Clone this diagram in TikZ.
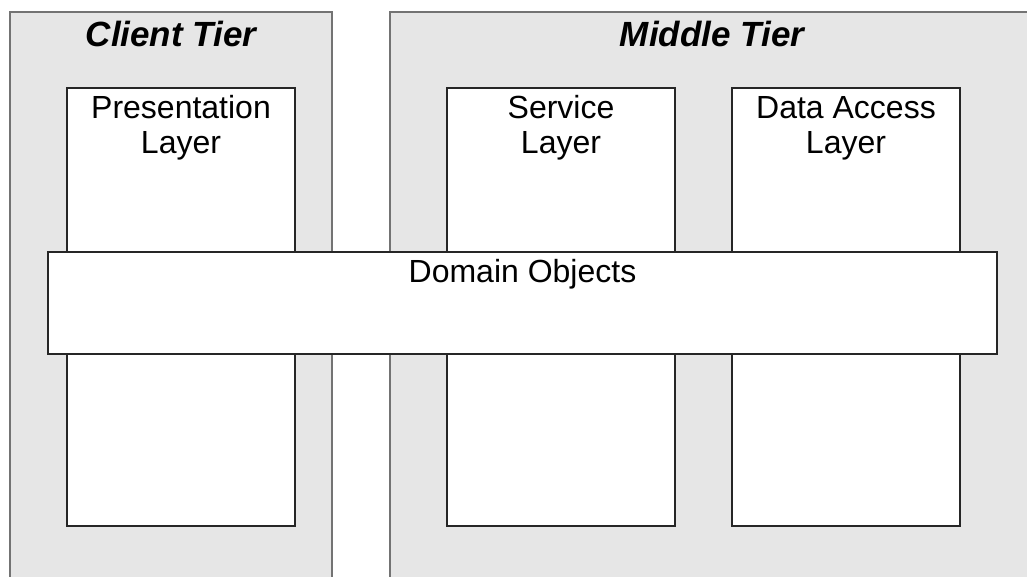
\documentclass[tikz,border=0pt]{standalone}
\usepackage{fontspec}
\setmainfont{Liberation Sans}
\definecolor{tiergray}{RGB}{230,230,230}
\begin{document}
\begin{tikzpicture}[x=1pt, y=-1pt]
			\tikzset{tierbox/.style={rectangle, draw=black!55, fill=tiergray,
						line width=1.2pt, inner sep=0pt}}
			\tikzset{layerbox/.style={rectangle, draw=black!85, fill=white,
						line width=1.2pt, inner sep=0pt}}
			\tikzset{tiertext/.style={font=\fontsize{35}{38}\selectfont\bfseries\itshape,
						inner sep=0pt, anchor=base}}
			\tikzset{layertext/.style={font=\fontsize{32}{35}\selectfont,
						align=center, inner sep=0pt, anchor=base}}

			\useasboundingbox (0,0) rectangle (1027,576);
			\clip (0,0) rectangle (1027,576);

			% tiers
			\node[tierbox, minimum width=322pt, minimum height=628pt] (client) at (171,326) {};
			\node[tierbox, minimum width=644pt, minimum height=628pt] (middle) at (712,326) {};
			\node[tiertext] (clienttitle) at ([yshift=-35pt]client.north) {Client Tier};
			\node[tiertext] (middletitle) at ([yshift=-35pt]middle.north) {Middle Tier};

			% layers
			\node[layerbox, minimum width=228pt, minimum height=438pt] (pres) at (181,307) {};
			\node[layerbox, minimum width=228pt, minimum height=438pt] (serv) at (561,307) {};
			\node[layerbox, minimum width=228pt, minimum height=438pt] (dal) at (846,307) {};
			% base is the second line here
			\node[layertext] (prestext) at ([yshift=-66pt]pres.north) {Presentation\\Layer};
			\node[layertext] (servtext) at ([yshift=-66pt]serv.north) {Service\\Layer};
			\node[layertext] (daltext) at ([yshift=-66pt]dal.north) {Data Access\\Layer};

			% domain objects
			\node[layerbox, minimum width=949pt, minimum height=102pt] (domain) at (522.5,303) {};
			\node[layertext] (domaintext) at ([yshift=-31pt]domain.north) {Domain Objects};
		\end{tikzpicture}
\end{document}
